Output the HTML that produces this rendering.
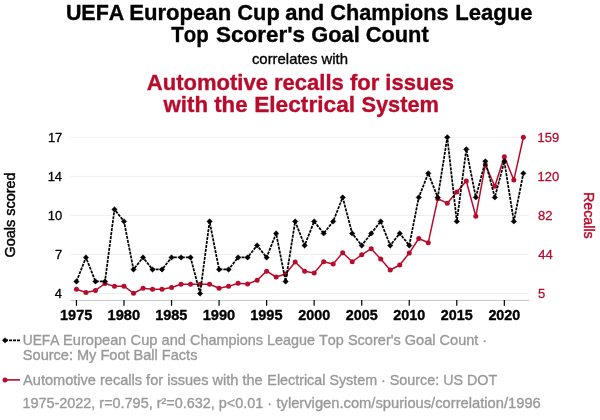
<!DOCTYPE html>
<html lang="en">
<head>
<meta charset="utf-8">
<title>UEFA European Cup and Champions League Top Scorer's Goal Count correlates with Automotive recalls for issues with the Electrical System</title>
<style>
html,body{margin:0;padding:0;background:#fff;width:600px;height:420px;overflow:hidden}
svg{display:block}
</style>
</head>
<body>
<svg width="600" height="420" viewBox="0 0 600 420" font-family="'Liberation Sans', Arial, Helvetica, sans-serif" stroke-width="0.35">
<rect width="600" height="420" fill="#ffffff"/>
<style>text{font-kerning:none;stroke-linejoin:round;paint-order:stroke fill}.k{stroke:#000}.r{stroke:#b90b2b}.g{stroke:#999999}</style>
<text y="20.00" font-size="22.4" font-weight="bold" class="k" fill="#000"><tspan x="65.89" textLength="58.41" lengthAdjust="spacingAndGlyphs">UEFA</tspan> <tspan x="129.14" textLength="102.03" lengthAdjust="spacingAndGlyphs">European</tspan> <tspan x="237.30" textLength="42.41" lengthAdjust="spacingAndGlyphs">Cup</tspan> <tspan x="285.23" textLength="39.05" lengthAdjust="spacingAndGlyphs">and</tspan> <tspan x="330.31" textLength="118.30" lengthAdjust="spacingAndGlyphs">Champions</tspan> <tspan x="455.34" textLength="77.27" lengthAdjust="spacingAndGlyphs">League</tspan></text>
<text y="41.60" font-size="22.4" font-weight="bold" class="k" fill="#000"><tspan x="171.22" textLength="37.44" lengthAdjust="spacingAndGlyphs">Top</tspan> <tspan x="216.01" textLength="89.02" lengthAdjust="spacingAndGlyphs">Scorer's</tspan> <tspan x="311.30" textLength="48.40" lengthAdjust="spacingAndGlyphs">Goal</tspan> <tspan x="365.70" textLength="63.05" lengthAdjust="spacingAndGlyphs">Count</tspan></text>
<text x="251.91" y="63.70" font-size="15" class="k" fill="#000" textLength="96.08" lengthAdjust="spacingAndGlyphs">correlates with</text>
<text x="146.83" y="89.70" font-size="22.4" font-weight="bold" class="r" fill="#b90b2b" textLength="307.09" lengthAdjust="spacingAndGlyphs">Automotive recalls for issues</text>
<text y="111.60" font-size="22.4" font-weight="bold" class="r" fill="#b90b2b"><tspan x="163.49" textLength="84.03" lengthAdjust="spacingAndGlyphs">with the</tspan> <tspan x="254.20" textLength="100.86" lengthAdjust="spacingAndGlyphs">Electrical</tspan> <tspan x="361.43" textLength="77.59" lengthAdjust="spacingAndGlyphs">System</tspan></text>
<g stroke="#efefef" stroke-width="1">
<line x1="70.5" x2="529" y1="293.50" y2="293.50"/>
<line x1="70.5" x2="529" y1="254.45" y2="254.45"/>
<line x1="70.5" x2="529" y1="215.40" y2="215.40"/>
<line x1="70.5" x2="529" y1="176.35" y2="176.35"/>
<line x1="70.5" x2="529" y1="137.30" y2="137.30"/>
</g>
<line x1="70.5" x2="529" y1="300.4" y2="300.4" stroke="#c4c4c4" stroke-width="1"/>
<line x1="76.45" x2="76.45" y1="300" y2="305.8" stroke="#000" stroke-width="1.2"/>
<text x="60.05" y="320.40" font-size="14.7" font-weight="bold" class="k" fill="#000" textLength="32.30" lengthAdjust="spacingAndGlyphs">1975</text>
<line x1="123.99" x2="123.99" y1="300" y2="305.8" stroke="#000" stroke-width="1.2"/>
<text x="107.59" y="320.40" font-size="14.7" font-weight="bold" class="k" fill="#000" textLength="32.45" lengthAdjust="spacingAndGlyphs">1980</text>
<line x1="171.54" x2="171.54" y1="300" y2="305.8" stroke="#000" stroke-width="1.2"/>
<text x="155.14" y="320.40" font-size="14.7" font-weight="bold" class="k" fill="#000" textLength="32.30" lengthAdjust="spacingAndGlyphs">1985</text>
<line x1="219.08" x2="219.08" y1="300" y2="305.8" stroke="#000" stroke-width="1.2"/>
<text x="202.68" y="320.40" font-size="14.7" font-weight="bold" class="k" fill="#000" textLength="32.45" lengthAdjust="spacingAndGlyphs">1990</text>
<line x1="266.62" x2="266.62" y1="300" y2="305.8" stroke="#000" stroke-width="1.2"/>
<text x="250.22" y="320.40" font-size="14.7" font-weight="bold" class="k" fill="#000" textLength="32.30" lengthAdjust="spacingAndGlyphs">1995</text>
<line x1="314.16" x2="314.16" y1="300" y2="305.8" stroke="#000" stroke-width="1.2"/>
<text x="298.21" y="320.40" font-size="14.7" font-weight="bold" class="k" fill="#000" textLength="32.00" lengthAdjust="spacingAndGlyphs">2000</text>
<line x1="361.71" x2="361.71" y1="300" y2="305.8" stroke="#000" stroke-width="1.2"/>
<text x="345.75" y="320.40" font-size="14.7" font-weight="bold" class="k" fill="#000" textLength="31.85" lengthAdjust="spacingAndGlyphs">2005</text>
<line x1="409.25" x2="409.25" y1="300" y2="305.8" stroke="#000" stroke-width="1.2"/>
<text x="393.29" y="320.40" font-size="14.7" font-weight="bold" class="k" fill="#000" textLength="32.00" lengthAdjust="spacingAndGlyphs">2010</text>
<line x1="456.79" x2="456.79" y1="300" y2="305.8" stroke="#000" stroke-width="1.2"/>
<text x="440.84" y="320.40" font-size="14.7" font-weight="bold" class="k" fill="#000" textLength="31.85" lengthAdjust="spacingAndGlyphs">2015</text>
<line x1="504.33" x2="504.33" y1="300" y2="305.8" stroke="#000" stroke-width="1.2"/>
<text x="488.38" y="320.40" font-size="14.7" font-weight="bold" class="k" fill="#000" textLength="32.00" lengthAdjust="spacingAndGlyphs">2020</text>
<text x="54.86" y="298.10" font-size="13" class="k" fill="#000" textLength="7.23" lengthAdjust="spacingAndGlyphs" stroke-width="0.3">4</text>
<text x="537.93" y="298.10" font-size="13" class="r" fill="#b90b2b" textLength="7.23" lengthAdjust="spacingAndGlyphs" stroke-width="0.3">5</text>
<text x="55.12" y="259.05" font-size="13" class="k" fill="#000" textLength="7.23" lengthAdjust="spacingAndGlyphs" stroke-width="0.3">7</text>
<text x="538.19" y="259.05" font-size="13" class="r" fill="#b90b2b" textLength="14.46" lengthAdjust="spacingAndGlyphs" stroke-width="0.3">44</text>
<text x="47.76" y="220.00" font-size="13" class="k" fill="#000" textLength="14.46" lengthAdjust="spacingAndGlyphs" stroke-width="0.3">10</text>
<text x="537.93" y="220.00" font-size="13" class="r" fill="#b90b2b" textLength="14.46" lengthAdjust="spacingAndGlyphs" stroke-width="0.3">82</text>
<text x="47.63" y="180.95" font-size="13" class="k" fill="#000" textLength="14.46" lengthAdjust="spacingAndGlyphs" stroke-width="0.3">14</text>
<text x="537.47" y="180.95" font-size="13" class="r" fill="#b90b2b" textLength="21.69" lengthAdjust="spacingAndGlyphs" stroke-width="0.3">120</text>
<text x="47.89" y="141.90" font-size="13" class="k" fill="#000" textLength="14.46" lengthAdjust="spacingAndGlyphs" stroke-width="0.3">17</text>
<text x="537.47" y="141.90" font-size="13" class="r" fill="#b90b2b" textLength="21.69" lengthAdjust="spacingAndGlyphs" stroke-width="0.3">159</text>
<g transform="translate(15.2,215) rotate(-90)"><text x="-42.40" y="0.00" font-size="15" class="k" fill="#000" textLength="84.95" lengthAdjust="spacingAndGlyphs" stroke-width="0.45">Goals scored</text></g>
<g transform="translate(583.8,215.65) rotate(90)"><text x="-23.77" y="0.00" font-size="15" class="r" fill="#b90b2b" textLength="46.89" lengthAdjust="spacingAndGlyphs" stroke-width="0.45">Recalls</text></g>
<polyline points="76.45,289.20 85.96,292.50 95.47,290.40 104.98,283.50 114.48,286.35 123.99,286.20 133.50,293.25 143.01,288.30 152.52,289.20 162.03,289.20 171.54,287.55 181.04,284.25 190.55,284.25 200.06,284.25 209.57,284.25 219.08,288.30 228.59,286.35 238.09,283.20 247.60,284.00 257.11,280.30 266.62,271.15 276.13,277.00 285.64,274.00 295.15,262.00 304.65,271.30 314.16,273.10 323.67,261.75 333.18,264.00 342.69,252.75 352.20,261.75 361.71,254.85 371.21,248.70 380.72,259.05 390.23,270.00 399.74,265.00 409.25,253.05 418.76,238.50 428.26,242.70 437.77,198.80 447.28,203.15 456.79,191.90 466.30,181.00 475.81,216.30 485.32,164.80 494.82,186.20 504.33,156.65 513.84,180.05 523.35,137.30" fill="none" stroke="#b90b2b" stroke-width="1.5" stroke-linejoin="round"/>
<g fill="#b90b2b">
<circle cx="76.45" cy="289.20" r="2.5"/>
<circle cx="85.96" cy="292.50" r="2.5"/>
<circle cx="95.47" cy="290.40" r="2.5"/>
<circle cx="104.98" cy="283.50" r="2.5"/>
<circle cx="114.48" cy="286.35" r="2.5"/>
<circle cx="123.99" cy="286.20" r="2.5"/>
<circle cx="133.50" cy="293.25" r="2.5"/>
<circle cx="143.01" cy="288.30" r="2.5"/>
<circle cx="152.52" cy="289.20" r="2.5"/>
<circle cx="162.03" cy="289.20" r="2.5"/>
<circle cx="171.54" cy="287.55" r="2.5"/>
<circle cx="181.04" cy="284.25" r="2.5"/>
<circle cx="190.55" cy="284.25" r="2.5"/>
<circle cx="200.06" cy="284.25" r="2.5"/>
<circle cx="209.57" cy="284.25" r="2.5"/>
<circle cx="219.08" cy="288.30" r="2.5"/>
<circle cx="228.59" cy="286.35" r="2.5"/>
<circle cx="238.09" cy="283.20" r="2.5"/>
<circle cx="247.60" cy="284.00" r="2.5"/>
<circle cx="257.11" cy="280.30" r="2.5"/>
<circle cx="266.62" cy="271.15" r="2.5"/>
<circle cx="276.13" cy="277.00" r="2.5"/>
<circle cx="285.64" cy="274.00" r="2.5"/>
<circle cx="295.15" cy="262.00" r="2.5"/>
<circle cx="304.65" cy="271.30" r="2.5"/>
<circle cx="314.16" cy="273.10" r="2.5"/>
<circle cx="323.67" cy="261.75" r="2.5"/>
<circle cx="333.18" cy="264.00" r="2.5"/>
<circle cx="342.69" cy="252.75" r="2.5"/>
<circle cx="352.20" cy="261.75" r="2.5"/>
<circle cx="361.71" cy="254.85" r="2.5"/>
<circle cx="371.21" cy="248.70" r="2.5"/>
<circle cx="380.72" cy="259.05" r="2.5"/>
<circle cx="390.23" cy="270.00" r="2.5"/>
<circle cx="399.74" cy="265.00" r="2.5"/>
<circle cx="409.25" cy="253.05" r="2.5"/>
<circle cx="418.76" cy="238.50" r="2.5"/>
<circle cx="428.26" cy="242.70" r="2.5"/>
<circle cx="437.77" cy="198.80" r="2.5"/>
<circle cx="447.28" cy="203.15" r="2.5"/>
<circle cx="456.79" cy="191.90" r="2.5"/>
<circle cx="466.30" cy="181.00" r="2.5"/>
<circle cx="475.81" cy="216.30" r="2.5"/>
<circle cx="485.32" cy="164.80" r="2.5"/>
<circle cx="494.82" cy="186.20" r="2.5"/>
<circle cx="504.33" cy="156.65" r="2.5"/>
<circle cx="513.84" cy="180.05" r="2.5"/>
<circle cx="523.35" cy="137.30" r="2.5"/>
</g>
<polyline points="76.45,281.48 85.96,257.45 95.47,281.48 104.98,281.48 114.48,209.39 123.99,221.41 133.50,269.47 143.01,257.45 152.52,269.47 162.03,269.47 171.54,257.45 181.04,257.45 190.55,257.45 200.06,293.50 209.57,221.41 219.08,269.47 228.59,269.47 238.09,257.45 247.60,257.45 257.11,245.44 266.62,257.45 276.13,233.42 285.64,281.48 295.15,221.41 304.65,245.44 314.16,221.41 323.67,233.42 333.18,221.41 342.69,197.38 352.20,233.42 361.71,245.44 371.21,233.42 380.72,221.41 390.23,245.44 399.74,233.42 409.25,245.44 418.76,197.38 428.26,173.35 437.77,197.38 447.28,137.30 456.79,221.41 466.30,149.32 475.81,197.38 485.32,161.33 494.82,197.38 504.33,161.33 513.84,221.41 523.35,173.35" fill="none" stroke="#000" stroke-width="1.75" stroke-dasharray="3,1" stroke-linejoin="round"/>
<g fill="#000" stroke="#000" stroke-width="0.5" stroke-linejoin="round">
<path d="M76.45,278.78L79.15,281.48L76.45,284.18L73.75,281.48Z"/>
<path d="M85.96,254.75L88.66,257.45L85.96,260.15L83.26,257.45Z"/>
<path d="M95.47,278.78L98.17,281.48L95.47,284.18L92.77,281.48Z"/>
<path d="M104.98,278.78L107.68,281.48L104.98,284.18L102.28,281.48Z"/>
<path d="M114.48,206.69L117.18,209.39L114.48,212.09L111.78,209.39Z"/>
<path d="M123.99,218.71L126.69,221.41L123.99,224.11L121.29,221.41Z"/>
<path d="M133.50,266.77L136.20,269.47L133.50,272.17L130.80,269.47Z"/>
<path d="M143.01,254.75L145.71,257.45L143.01,260.15L140.31,257.45Z"/>
<path d="M152.52,266.77L155.22,269.47L152.52,272.17L149.82,269.47Z"/>
<path d="M162.03,266.77L164.73,269.47L162.03,272.17L159.33,269.47Z"/>
<path d="M171.54,254.75L174.24,257.45L171.54,260.15L168.84,257.45Z"/>
<path d="M181.04,254.75L183.74,257.45L181.04,260.15L178.34,257.45Z"/>
<path d="M190.55,254.75L193.25,257.45L190.55,260.15L187.85,257.45Z"/>
<path d="M200.06,290.80L202.76,293.50L200.06,296.20L197.36,293.50Z"/>
<path d="M209.57,218.71L212.27,221.41L209.57,224.11L206.87,221.41Z"/>
<path d="M219.08,266.77L221.78,269.47L219.08,272.17L216.38,269.47Z"/>
<path d="M228.59,266.77L231.29,269.47L228.59,272.17L225.89,269.47Z"/>
<path d="M238.09,254.75L240.79,257.45L238.09,260.15L235.39,257.45Z"/>
<path d="M247.60,254.75L250.30,257.45L247.60,260.15L244.90,257.45Z"/>
<path d="M257.11,242.74L259.81,245.44L257.11,248.14L254.41,245.44Z"/>
<path d="M266.62,254.75L269.32,257.45L266.62,260.15L263.92,257.45Z"/>
<path d="M276.13,230.72L278.83,233.42L276.13,236.12L273.43,233.42Z"/>
<path d="M285.64,278.78L288.34,281.48L285.64,284.18L282.94,281.48Z"/>
<path d="M295.15,218.71L297.85,221.41L295.15,224.11L292.45,221.41Z"/>
<path d="M304.65,242.74L307.35,245.44L304.65,248.14L301.95,245.44Z"/>
<path d="M314.16,218.71L316.86,221.41L314.16,224.11L311.46,221.41Z"/>
<path d="M323.67,230.72L326.37,233.42L323.67,236.12L320.97,233.42Z"/>
<path d="M333.18,218.71L335.88,221.41L333.18,224.11L330.48,221.41Z"/>
<path d="M342.69,194.68L345.39,197.38L342.69,200.08L339.99,197.38Z"/>
<path d="M352.20,230.72L354.90,233.42L352.20,236.12L349.50,233.42Z"/>
<path d="M361.71,242.74L364.41,245.44L361.71,248.14L359.01,245.44Z"/>
<path d="M371.21,230.72L373.91,233.42L371.21,236.12L368.51,233.42Z"/>
<path d="M380.72,218.71L383.42,221.41L380.72,224.11L378.02,221.41Z"/>
<path d="M390.23,242.74L392.93,245.44L390.23,248.14L387.53,245.44Z"/>
<path d="M399.74,230.72L402.44,233.42L399.74,236.12L397.04,233.42Z"/>
<path d="M409.25,242.74L411.95,245.44L409.25,248.14L406.55,245.44Z"/>
<path d="M418.76,194.68L421.46,197.38L418.76,200.08L416.06,197.38Z"/>
<path d="M428.26,170.65L430.96,173.35L428.26,176.05L425.56,173.35Z"/>
<path d="M437.77,194.68L440.47,197.38L437.77,200.08L435.07,197.38Z"/>
<path d="M447.28,134.60L449.98,137.30L447.28,140.00L444.58,137.30Z"/>
<path d="M456.79,218.71L459.49,221.41L456.79,224.11L454.09,221.41Z"/>
<path d="M466.30,146.62L469.00,149.32L466.30,152.02L463.60,149.32Z"/>
<path d="M475.81,194.68L478.51,197.38L475.81,200.08L473.11,197.38Z"/>
<path d="M485.32,158.63L488.02,161.33L485.32,164.03L482.62,161.33Z"/>
<path d="M494.82,194.68L497.52,197.38L494.82,200.08L492.12,197.38Z"/>
<path d="M504.33,158.63L507.03,161.33L504.33,164.03L501.63,161.33Z"/>
<path d="M513.84,218.71L516.54,221.41L513.84,224.11L511.14,221.41Z"/>
<path d="M523.35,170.65L526.05,173.35L523.35,176.05L520.65,173.35Z"/>
</g>
<line x1="5" x2="20" y1="340.35" y2="340.35" stroke="#000" stroke-width="1.75" stroke-dasharray="3,1"/>
<path d="M5,337.65L7.70,340.35L5,343.05L2.30,340.35Z" fill="#000" stroke="#000" stroke-width="0.5" stroke-linejoin="round"/>
<line x1="5" x2="20" y1="379.9" y2="379.9" stroke="#b90b2b" stroke-width="1.6"/>
<circle cx="5" cy="379.9" r="2.5" fill="#b90b2b"/>
<text y="344.90" font-size="15" class="g" fill="#999999"><tspan x="22.74" textLength="36.64" lengthAdjust="spacingAndGlyphs">UEFA</tspan> <tspan x="63.00" textLength="122.92" lengthAdjust="spacingAndGlyphs">European Cup and</tspan> <tspan x="190.05" textLength="153.76" lengthAdjust="spacingAndGlyphs">Champions League Top</tspan> <tspan x="347.92" textLength="139.32" lengthAdjust="spacingAndGlyphs">Scorer's Goal Count ·</tspan></text>
<text y="360.30" font-size="15" class="g" fill="#999999"><tspan x="22.85" textLength="174.58" lengthAdjust="spacingAndGlyphs">Source: My Foot Ball Facts</tspan></text>
<text y="384.80" font-size="15" class="g" fill="#999999"><tspan x="23.07" textLength="239.65" lengthAdjust="spacingAndGlyphs">Automotive recalls for issues with the</tspan> <tspan x="267.33" textLength="229.89" lengthAdjust="spacingAndGlyphs">Electrical System · Source: US DOT</tspan></text>
<text y="407.80" font-size="15" class="g" fill="#999999"><tspan x="22.39" textLength="249.73" lengthAdjust="spacingAndGlyphs">1975-2022, r=0.795, r²=0.632, p&lt;0.01 ·</tspan> <tspan x="276.45" textLength="264.38" lengthAdjust="spacingAndGlyphs">tylervigen.com/spurious/correlation/1996</tspan></text>
</svg>
</body>
</html>
